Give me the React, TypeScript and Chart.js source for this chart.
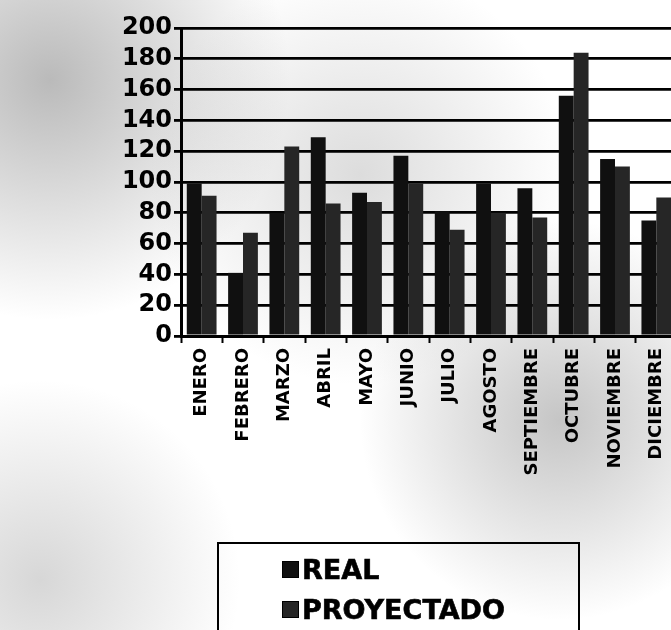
import React, { useEffect, useRef } from "react";
import { Chart, registerables } from "chart.js";

Chart.register(...registerables);

const categories = ["ENERO", "FEBRERO", "MARZO", "ABRIL", "MAYO", "JUNIO", "JULIO", "AGOSTO", "SEPTIEMBRE", "OCTUBRE", "NOVIEMBRE", "DICIEMBRE"];
const realValues = [99, 41, 80, 129, 93, 117, 81, 99, 96, 156, 115, 75];
const proyectadoValues = [91, 67, 123, 86, 87, 99, 69, 80, 77, 184, 110, 90];
const seriesNames = ["REAL", "PROYECTADO"];
const seriesColors = ["#101010", "#262626"];

const CANVAS_W = 690;
const CANVAS_H = 630;

const bgPlugin = {
  id: "scanBg",
  beforeDraw(chart: any) {
    const { ctx } = chart;
    ctx.save();
    ctx.fillStyle = "#ffffff";
    ctx.fillRect(0, 0, chart.width, chart.height);
    const blobs: [number, number, number, number][] = [
      [50, 80, 240, 0.6],
      [360, 175, 210, 0.3],
      [560, 420, 200, 0.5],
      [40, 580, 200, 0.35],
    ];
    for (const [x, y, r, a] of blobs) {
      const g = ctx.createRadialGradient(x, y, 0, x, y, r);
      g.addColorStop(0, `rgba(140,140,140,${a})`);
      g.addColorStop(1, "rgba(140,140,140,0)");
      ctx.fillStyle = g;
      ctx.fillRect(0, 0, chart.width, chart.height);
    }
    ctx.restore();
  },
};

export default function App() {
  const ref = useRef<HTMLCanvasElement>(null);

  useEffect(() => {
    if (!ref.current) return;
    const chart = new Chart(ref.current, {
      type: "bar",
      data: {
        labels: categories,
        datasets: [
          { label: seriesNames[0], data: realValues, backgroundColor: seriesColors[0], borderWidth: 0 },
          { label: seriesNames[1], data: proyectadoValues, backgroundColor: seriesColors[1], borderWidth: 0 },
        ],
      },
      options: {
        responsive: false,
        animation: false,
        devicePixelRatio: 1,
        layout: { padding: { left: 0, top: 28, right: 13, bottom: 134 } },
        datasets: { bar: { categoryPercentage: 0.72, barPercentage: 1.0 } },
        plugins: { legend: { display: false }, tooltip: { enabled: false } },
        scales: {
          x: {
            grid: { display: true, drawOnChartArea: false, drawTicks: true, tickLength: 7, tickColor: "#000", tickWidth: 2 },
            border: { display: true, color: "#000", width: 3 },
            ticks: {
              color: "#000",
              minRotation: 90,
              maxRotation: 90,
              autoSkip: false,
              padding: 5,
              font: { family: "'DejaVu Sans', sans-serif", weight: "bold", size: 18 },
            },
            afterFit: (s: any) => { s.height = 160; },
          },
          y: {
            min: 0,
            max: 200,
            ticks: {
              stepSize: 20,
              autoSkip: false,
              color: "#000",
              padding: 2,
              font: { family: "'DejaVu Sans', sans-serif", weight: "bold", size: 24, lineHeight: 1 },
            },
            grid: { color: "#000", lineWidth: 2.8, drawTicks: true, tickLength: 7, tickColor: "#000" },
            border: { display: true, color: "#000", width: 3 },
            afterFit: (s: any) => { s.width = 181; },
          },
        },
      },
      plugins: [bgPlugin],
    });
    return () => chart.destroy();
  }, []);

  return (
    <div style={{ position: "fixed", left: 0, top: 0, width: 671, height: 630, overflow: "hidden", background: "#fff" }}>
      <canvas ref={ref} width={CANVAS_W} height={CANVAS_H} style={{ position: "absolute", left: 0, top: 0, width: CANVAS_W, height: CANVAS_H }} />
      <div
        style={{
          position: "absolute",
          left: 217,
          top: 542,
          width: 363,
          height: 120,
          border: "2px solid #000",
          boxSizing: "border-box",
          fontFamily: "'DejaVu Sans', sans-serif",
          fontWeight: "bold",
          fontSize: 27,
          color: "#000",
        }}
      >
        {seriesNames.map((name, i) => (
          <div key={name} style={{ position: "absolute", left: 63, top: 8 + i * 40, height: 34, display: "flex", alignItems: "center", whiteSpace: "nowrap" }}>
            <span style={{ display: "inline-block", width: 15, height: 15, background: seriesColors[i], marginRight: 3, border: "1px solid #000" }} />
            <span style={{ WebkitTextStroke: "0.6px #000" }}>{name}</span>
          </div>
        ))}
      </div>
    </div>
  );
}
